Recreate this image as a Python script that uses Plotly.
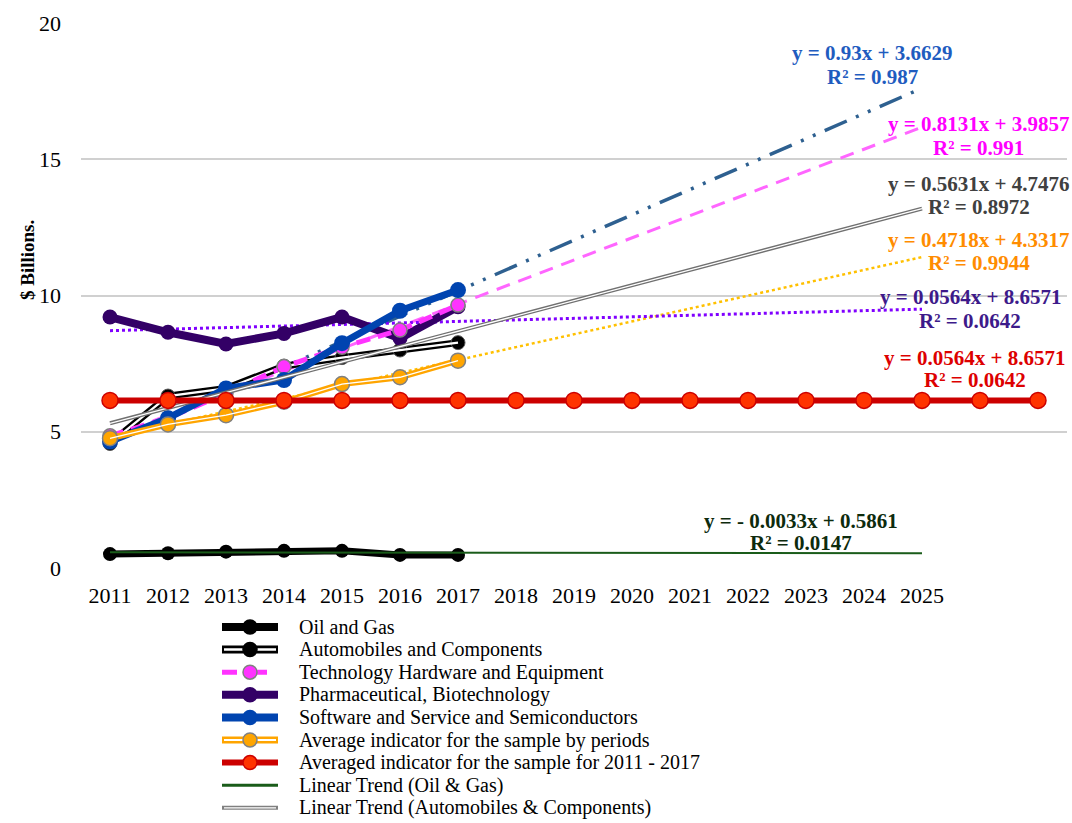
import plotly.graph_objects as go

FONT = "Liberation Serif, Times New Roman, serif"

# Years with observed data, and the extended axis used by the constant average line
years = [2011, 2012, 2013, 2014, 2015, 2016, 2017]
years_ext = [2011, 2012, 2013, 2014, 2015, 2016, 2017, 2018, 2019,
             2020, 2021, 2022, 2023, 2024, 2025, 2026, 2027]
tick_years = [2011, 2012, 2013, 2014, 2015, 2016, 2017, 2018,
              2019, 2020, 2021, 2022, 2023, 2024, 2025]

oil_gas = [0.51, 0.54, 0.60, 0.63, 0.63, 0.48, 0.48]
automobiles = [4.57, 6.31, 6.59, 7.41, 7.72, 8.00, 8.27]
tech_hardware = [4.85, 5.50, 6.41, 7.39, 8.10, 8.73, 9.65]
pharma = [9.21, 8.65, 8.22, 8.61, 9.21, 8.43, 9.59]
software = [4.64, 5.50, 6.59, 6.90, 8.25, 9.44, 10.20]
avg_periods = [4.76, 5.27, 5.61, 6.10, 6.75, 7.00, 7.61]
avg_total = [6.15, 6.15, 6.15, 6.15, 6.15, 6.15, 6.15, 6.15, 6.15,
             6.15, 6.15, 6.15, 6.15, 6.15, 6.15, 6.15, 6.15]

# Linear trend end points (2011 -> 2025)
trend_x = [2011, 2025]
trend_oil = [0.58, 0.54]
trend_auto = [5.31, 13.19]
trend_software = [4.59, 17.61]
trend_tech = [4.80, 16.18]
trend_avg = [4.80, 11.41]
trend_pharma = [8.71, 9.50]

# Trend equation labels, one entry per equation (two text lines each)
eq_x = [2024.14, 2025.98, 2025.98, 2025.98, 2025.83, 2025.91, 2022.91]
eq_y1 = [18.90, 16.29, 14.09, 12.04, 9.94, 7.71, 1.72]
eq_y2 = [18.02, 15.43, 13.25, 11.19, 9.08, 6.90, 0.92]
eq_line1 = ["y = 0.93x + 3.6629", "y = 0.8131x + 3.9857", "y = 0.5631x + 4.7476",
            "y = 0.4718x + 4.3317", "y = 0.0564x + 8.6571", "y = 0.0564x + 8.6571",
            "y = - 0.0033x + 0.5861"]
eq_line2 = ["R² = 0.987", "R² = 0.991", "R² = 0.8972", "R² = 0.9944",
            "R² = 0.0642", "R² = 0.0642", "R² = 0.0147"]
eq_color = ["#1f5cbf", "#ff00ff", "#404040", "#ff8c00",
            "#3d1a8a", "#dd0000", "#0d2b0d"]

legend_names = ["Oil and Gas", "Automobiles and Components",
                "Technology Hardware and Equipment", "Pharmaceutical, Biotechnology",
                "Software and Service and Semiconductors",
                "Average indicator for the sample by periods",
                "Averaged indicator for the sample for 2011 - 2017",
                "Linear Trend (Oil & Gas)",
                "Linear Trend (Automobiles & Components)"]

W, H = 1072, 823
L, R, T, B = 81, 5, 23, 255
PW, PH = W - L - R, H - T - B


def px(x):
    # pixel -> paper x
    return (x - L) / PW


def py(y):
    # pixel -> paper y
    return (H - B - y) / PH


fig = go.Figure()

# --- trend lines (drawn underneath) ---
fig.add_trace(go.Scatter(x=trend_x, y=trend_software, mode="lines",
                         line=dict(color="#2e6090", width=3.5,
                                   dash="24px,10px,3px,10px,3px,10px")))
fig.add_trace(go.Scatter(x=trend_x, y=trend_tech, mode="lines",
                         line=dict(color="#ff66ff", width=3, dash="14px,9px")))
fig.add_trace(go.Scatter(x=trend_x, y=trend_avg, mode="lines",
                         line=dict(color="#ffc000", width=2.5, dash="dot")))
fig.add_trace(go.Scatter(x=trend_x, y=trend_pharma, mode="lines",
                         line=dict(color="#8000ff", width=3, dash="dot")))

# --- observed series ---
fig.add_trace(go.Scatter(x=years, y=oil_gas, mode="lines+markers", name=legend_names[0],
                         line=dict(color="#000000", width=7),
                         marker=dict(color="#000000", size=14)))
fig.add_trace(go.Scatter(x=years, y=automobiles, mode="lines+markers",
                         name=legend_names[1],
                         line=dict(color="#000000", width=7),
                         marker=dict(color="#000000", size=14,
                                     line=dict(color="#555555", width=1))))
fig.add_trace(go.Scatter(x=years, y=automobiles, mode="lines",
                         line=dict(color="#ffffff", width=2.2)))
fig.add_trace(go.Scatter(x=years, y=pharma, mode="lines+markers", name=legend_names[3],
                         line=dict(color="#330066", width=8),
                         marker=dict(color="#330066", size=15)))
fig.add_trace(go.Scatter(x=years, y=tech_hardware, mode="lines+markers",
                         name=legend_names[2],
                         line=dict(color="#ff33ff", width=5, dash="14px,8px"),
                         marker=dict(color="#ff33ff", size=14,
                                     line=dict(color="#808080", width=1.5))))
fig.add_trace(go.Scatter(x=years, y=software, mode="lines+markers", name=legend_names[4],
                         line=dict(color="#0044b0", width=7),
                         marker=dict(color="#0044b0", size=16)))

fig.add_trace(go.Scatter(x=trend_x, y=trend_oil, mode="lines", name=legend_names[7],
                         line=dict(color="#1a5c1a", width=2)))
fig.add_trace(go.Scatter(x=trend_x, y=trend_auto, mode="lines", name=legend_names[8],
                         line=dict(color="#707070", width=4)))
fig.add_trace(go.Scatter(x=trend_x, y=trend_auto, mode="lines",
                         line=dict(color="#ffffff", width=1.3)))

fig.add_trace(go.Scatter(x=years, y=avg_periods, mode="lines+markers",
                         name=legend_names[5],
                         line=dict(color="#ffa500", width=6),
                         marker=dict(color="#ffa500", size=15,
                                     line=dict(color="#808080", width=1.5))))
fig.add_trace(go.Scatter(x=years, y=avg_periods, mode="lines",
                         line=dict(color="#ffffff", width=1.3)))
fig.add_trace(go.Scatter(x=years_ext, y=avg_total, mode="lines+markers",
                         name=legend_names[6],
                         line=dict(color="#cc0000", width=6),
                         marker=dict(color="#ff3300", size=16,
                                     line=dict(color="#cc0000", width=1.5))))

# --- trend equations ---
for x, y1, y2, t1, t2, c in zip(eq_x, eq_y1, eq_y2, eq_line1, eq_line2, eq_color):
    for y, t in ((y1, t1), (y2, t2)):
        fig.add_annotation(x=x, y=y, xref="x", yref="y", text=f"<b>{t}</b>",
                           showarrow=False, font=dict(family=FONT, size=21, color=c))

# y axis title
fig.add_annotation(x=px(27), y=py(260), xref="paper", yref="paper",
                   xanchor="center", yanchor="middle",
                   text="<b>$ Billions.</b>", showarrow=False, textangle=-90,
                   font=dict(family=FONT, size=19, color="#000000"))

# --- legend, drawn by hand so the rows can be as tight as the original ---
leg_style = [
    dict(color="#000000", width=8, mcolor="#000000", mline="#000000"),
    dict(color="#000000", width=8, inner=2.5, mcolor="#000000", mline="#000000"),
    dict(color="#ff33ff", width=5, dash="dash", mcolor="#ff33ff", mline="#808080"),
    dict(color="#330066", width=8, mcolor="#330066", mline="#330066"),
    dict(color="#0044b0", width=8, mcolor="#0044b0", mline="#0044b0"),
    dict(color="#ffa500", width=7, inner=2, mcolor="#ffa500", mline="#808080"),
    dict(color="#cc0000", width=6, mcolor="#ff3300", mline="#cc0000"),
    dict(color="#1a5c1a", width=3),
    dict(color="#808080", width=4, inner=1.2),
]
for i, (name, st) in enumerate(zip(legend_names, leg_style)):
    yc = 627 + 22.6 * i
    fig.add_shape(type="line", xref="paper", yref="paper",
                  x0=px(222), x1=px(278), y0=py(yc), y1=py(yc),
                  line=dict(color=st["color"], width=st["width"],
                            dash=st.get("dash", "solid")))
    if "inner" in st:
        fig.add_shape(type="line", xref="paper", yref="paper",
                      x0=px(224), x1=px(276), y0=py(yc), y1=py(yc),
                      line=dict(color="#ffffff", width=st["inner"]))
    if "mcolor" in st:
        fig.add_shape(type="circle", xref="paper", yref="paper",
                      x0=px(243), x1=px(257), y0=py(yc - 7), y1=py(yc + 7),
                      fillcolor=st["mcolor"], line=dict(color=st["mline"], width=1.5))
    fig.add_annotation(x=px(297), y=py(yc), xref="paper", yref="paper",
                       xanchor="left", yanchor="middle", text=name, showarrow=False,
                       font=dict(family=FONT, size=20, color="#000000"))

fig.update_layout(
    width=W, height=H,
    paper_bgcolor="white", plot_bgcolor="white",
    margin=dict(l=L, r=R, t=T, b=B),
    font=dict(family=FONT, size=22, color="#000000"),
    showlegend=False,
)
fig.update_xaxes(range=[2010.5, 2027.5], tickvals=tick_years, showgrid=False,
                 zeroline=False, showline=False, ticks="", ticklabelstandoff=12,
                 tickfont=dict(family=FONT, size=22, color="#000000"))
fig.update_yaxes(range=[0, 20], dtick=5, showgrid=True, gridcolor="#d0d0d0",
                 gridwidth=1.5, zeroline=False, showline=False, ticks="",
                 ticklabelstandoff=19,
                 tickfont=dict(family=FONT, size=22, color="#000000"))

# drop the browser's default 8px body margin so the figure fills the window
fig.write_html("out.html", config={"displayModeBar": False},
               post_script="document.body.style.margin = '0';")
